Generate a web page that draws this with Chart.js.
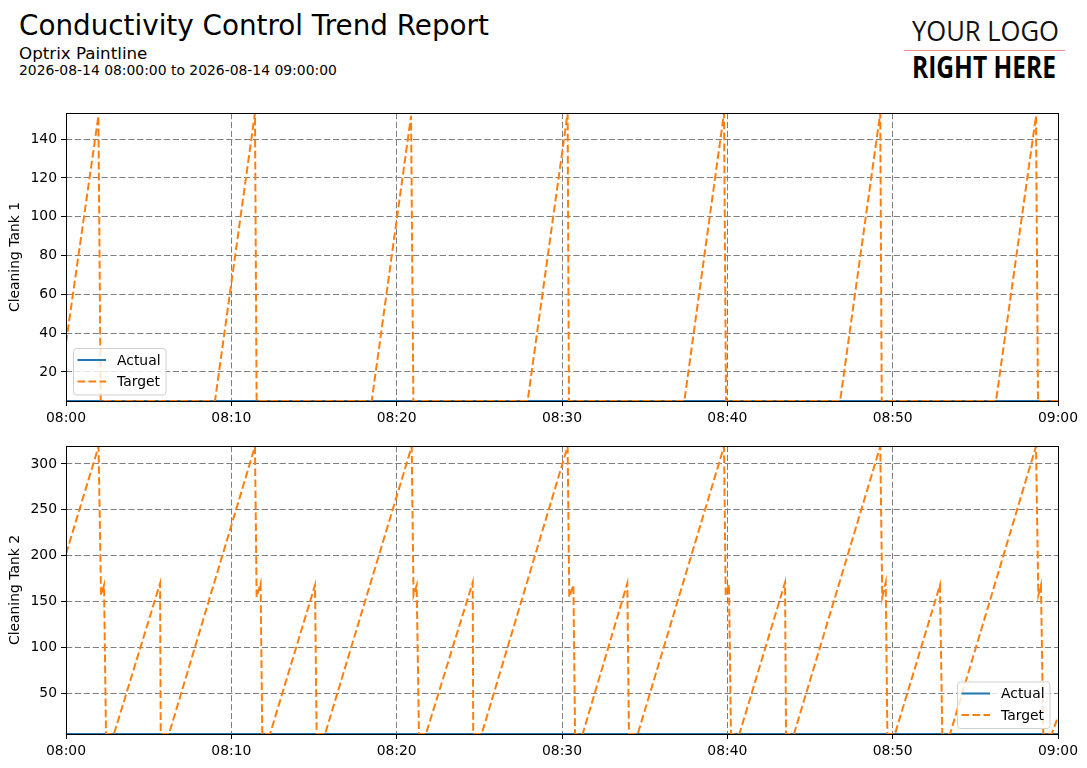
<!DOCTYPE html>
<html>
<head>
<meta charset="utf-8">
<title>Conductivity Control Trend Report</title>
<script src="https://cdn.jsdelivr.net/npm/chart.js@4.4.1/dist/chart.umd.min.js"></script>
<style>
  body { margin: 0; width: 1087px; height: 768px; background: #fff; position: relative; overflow: hidden; font-family: "DejaVu Sans", sans-serif; }
  .txt { position: absolute; white-space: nowrap; line-height: 1; color: #000; }
  #title { left: 19px; top: 11.5px; font-size: 27.8px; }
  #sub { left: 19px; top: 44.9px; font-size: 16.7px; }
  #range { left: 19px; top: 63.5px; font-size: 13.9px; }
  .logo { position: absolute; left: 912px; white-space: nowrap; line-height: 1; font-family: "Open Sans", sans-serif; color: #111; transform-origin: 0 0; }
  #logo1 { top: 18.4px; font-size: 26.6px; font-weight: 400; }
  #logo2 { top: 51.7px; font-size: 30px; font-weight: 700; color: #000; }
  #logoLine { position: absolute; left: 904px; top: 49.5px; width: 161px; height: 1px; background: #f08a8a; }
  .plot { position: absolute; left: 0; }
</style>
</head>
<body>
<div class="txt" id="title">Conductivity Control Trend Report</div>
<div class="txt" id="sub">Optrix Paintline</div>
<div class="txt" id="range">2026-08-14 08:00:00 to 2026-08-14 09:00:00</div>
<div class="logo" id="logo1">YOUR LOGO</div>
<div id="logoLine"></div>
<div class="logo" id="logo2">RIGHT HERE</div>

<canvas class="plot" id="tank1" width="1087" height="330" style="top:100px"></canvas>
<canvas class="plot" id="tank2" width="1087" height="335" style="top:433px"></canvas>

<script>
// minutes after 08:00
const xTickLabels = ['08:00', '08:10', '08:20', '08:30', '08:40', '08:50', '09:00'];

const actualTimes = [0, 60];
const tank1Actual = [5, 5];
const tank2Actual = [6, 6];

const tank1Times  = [0, 1.96, 2.10, 9.01, 11.43, 11.53, 18.49, 20.87, 21.01, 27.92, 30.34, 30.42,
                     37.40, 39.80, 39.92, 46.82, 49.25, 49.34, 56.25, 58.67, 58.79, 60];
const tank1Target = [35, 152, 5, 5, 153.5, 5, 5, 152, 5, 5, 153.5, 5,
                     5, 153.5, 5, 5, 153.5, 5, 5, 152, 5, 5];

const tank2Times  = [0, 1.97, 2.12, 2.30, 2.42, 2.90, 5.69, 5.73, 6.23,
                     11.43, 11.53, 11.77, 11.87, 12.34, 15.06, 15.16, 15.67,
                     20.91, 21.02, 21.21, 21.35, 21.77, 24.60, 24.63, 25.14,
                     30.34, 30.44, 30.69, 30.79, 31.25, 33.95, 34.05, 34.58,
                     39.80, 39.90, 40.10, 40.22, 40.73, 43.49, 43.55, 44.03,
                     49.25, 49.37, 49.58, 49.68, 50.14, 52.86, 53.00, 53.47,
                     58.67, 58.81, 58.97, 59.11, 59.62, 60];
const tank2Target = [202, 319, 157, 168, 6, 6, 170, 6, 6,
                     319, 155, 170, 6, 6, 168, 6, 6,
                     319, 157, 168, 6, 6, 171, 6, 6,
                     319, 155, 168, 6, 6, 170, 6, 6,
                     319, 157, 169, 6, 6, 171, 6, 6,
                     319, 155, 171, 6, 6, 168, 6, 6,
                     319, 157, 168, 6, 6, 25];

Chart.defaults.font.family = '"DejaVu Sans", sans-serif';
Chart.defaults.font.size = 13.9;
Chart.defaults.color = '#000';

const toPoints = (xs, ys) => xs.map((x, i) => ({ x: x, y: ys[i] }));

// black box round the plot area, like the spines
const framePlugin = {
  id: 'frame',
  afterDatasetsDraw(chart) {
    const { ctx, chartArea: a } = chart;
    ctx.save();
    ctx.strokeStyle = '#000';
    ctx.lineWidth = 1;
    ctx.strokeRect(Math.round(a.left) + 0.5, Math.round(a.top) + 0.5,
                   Math.round(a.right - a.left), Math.round(a.bottom - a.top));
    ctx.restore();
  }
};

// legend box inside the plot
const boxLegend = {
  id: 'boxLegend',
  afterDraw(chart, args, opts) {
    const ctx = chart.ctx;
    const x = opts.x, y = opts.y;
    ctx.save();
    ctx.fillStyle = 'rgba(255,255,255,0.8)';
    ctx.strokeStyle = '#d0d0d0';
    ctx.lineWidth = 1;
    ctx.beginPath();
    ctx.roundRect(x + 0.5, y + 0.5, 92.5, 46.5, 3);
    ctx.fill();
    ctx.stroke();
    chart.data.datasets.forEach((ds, i) => {
      const ly = y + 12 + i * 21.5;
      ctx.strokeStyle = ds.borderColor;
      ctx.lineWidth = ds.borderWidth;
      ctx.setLineDash(ds.borderDash || []);
      ctx.beginPath();
      ctx.moveTo(x + 4.5, ly);
      ctx.lineTo(x + 33, ly);
      ctx.stroke();
      ctx.setLineDash([]);
      ctx.fillStyle = '#000';
      ctx.font = '13.9px "DejaVu Sans"';
      ctx.textBaseline = 'middle';
      ctx.fillText(ds.label, x + 44, ly + 1);
    });
    ctx.restore();
  }
};

function makeChart(id, times, target, actual, yMin, yMax, yStep, yTitle, legendAt, padBottom) {
  const grid = { color: '#7f7f7f', lineWidth: 1, tickColor: '#000', tickLength: 5,
                 tickWidth: 1, tickBorderDash: [] };
  return new Chart(document.getElementById(id), {
    type: 'line',
    data: {
      datasets: [
        { label: 'Actual', data: toPoints(actualTimes, actual), borderColor: '#1f77b4',
          borderWidth: 2, pointRadius: 0, tension: 0, order: 1 },
        { label: 'Target', data: toPoints(times, target), borderColor: '#ff7f0e',
          borderWidth: 2, borderDash: [7.7, 3.3], pointRadius: 0, tension: 0, order: 0 }
      ]
    },
    options: {
      responsive: false,
      animation: false,
      events: [],
      layout: { padding: { left: 0, top: 13, right: 29, bottom: padBottom } },
      plugins: {
        legend: { display: false },
        tooltip: { enabled: false },
        boxLegend: legendAt
      },
      scales: {
        x: {
          type: 'linear', min: 0, max: 60,
          ticks: { stepSize: 10, padding: 4, maxRotation: 0, autoSkip: false,
                   callback: (v, i) => xTickLabels[i] },
          grid: grid,
          border: { display: false, dash: [6.2, 2.7] },
          afterFit: s => { s.height = 29; }
        },
        y: {
          min: yMin, max: yMax,
          ticks: { stepSize: yStep, includeBounds: false, padding: 4 },
          title: { display: true, text: yTitle, font: { size: 13.9 }, padding: { top: 7.5, bottom: 0 } },
          grid: grid,
          border: { display: false, dash: [6.2, 2.7] },
          afterFit: s => { s.width = 66; }
        }
      }
    },
    plugins: [framePlugin, boxLegend]
  });
}

makeChart('tank1', tank1Times, tank1Target, tank1Actual, 5, 153.5, 20, 'Cleaning Tank 1', { x: 73, y: 248 }, 0);
makeChart('tank2', tank2Times, tank2Target, tank2Actual, 6, 319.5, 50, 'Cleaning Tank 2', { x: 957, y: 248.5 }, 5);

// squeeze the logo words to the logo width
function fitLogo() {
  [['logo1', 147], ['logo2', 144]].forEach(([id, w]) => {
    const el = document.getElementById(id);
    const sw = el.getBoundingClientRect().width;
    el.style.transform = 'scaleX(' + (w / sw) + ')';
  });
}
if (document.fonts && document.fonts.ready) document.fonts.ready.then(fitLogo); else fitLogo();
</script>
</body>
</html>
